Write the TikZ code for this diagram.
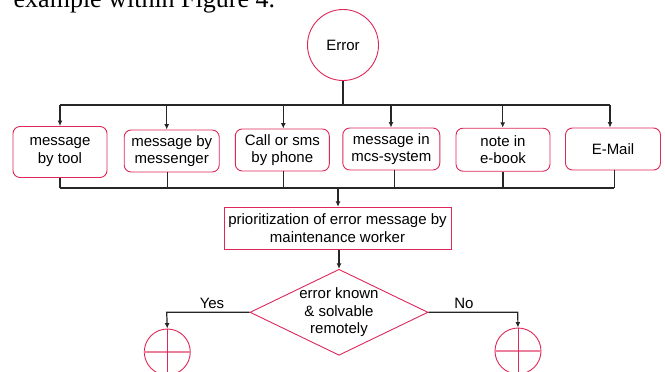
\documentclass[tikz,border=0pt]{standalone}
\usepackage{fontspec}
\setmainfont{Liberation Sans}
\newfontfamily\serifhead{Liberation Serif}
\usetikzlibrary{shapes.geometric,arrows.meta}
\definecolor{crim}{RGB}{222,40,88}
\definecolor{crimlight}{RGB}{236,128,156}
\tikzset{
  base/.style={font=\fontsize{15}{17.7}\selectfont, align=center, inner sep=0pt},
  srcbox/.style={base, draw=crim, line width=0.9pt, rounded corners=7pt, minimum width=95pt, minimum height=42pt},
  procbox/.style={base, draw=crim, line width=0.9pt, minimum width=227pt, minimum height=42pt},
  termcirc/.style={base, draw=crim, line width=0.9pt, circle, minimum size=71pt},
  decide/.style={base, draw=crim, line width=0.9pt, diamond, aspect=2.07, inner sep=-1.5pt, minimum width=178pt, minimum height=86pt},
  endcirc/.style={draw=crim, line width=0.9pt, circle, minimum size=46pt, inner sep=0pt},
  conn/.style={draw=black!85, line width=1.2pt},
  arr/.style={conn, -{Latex[length=5.5pt,width=5pt]}},
  lbl/.style={base}
}
\begin{document}
\begin{tikzpicture}[x=1pt,y=-1pt]
\clip (0,0) rectangle (665,372);
\fill[white] (0,0) rectangle (665,372);
\node[anchor=base west, inner sep=0pt, font=\serifhead\fontsize{26}{30}\selectfont] (hdr) at (13.5,7) {example within Figure 4.};

\node[termcirc] (err) at (343,45) {Error};

\node[srcbox, minimum width=94pt, minimum height=51pt] (b1) at (60,152) {message\\by tool};
\node[srcbox] (b2) at (171.7,151) {message by\\messenger};
\node[srcbox, minimum width=94pt] (b3) at (282.3,150) {Call or sms\\by phone};
\node[srcbox, minimum width=97pt] (b4) at (391.3,149) {message in\\mcs-system};
\node[srcbox, minimum width=94pt, minimum height=43pt] (b5) at (503,149.7) {note in\\e-book};
\node[srcbox] (b6) at (613,149) {E-Mail};

\node[procbox] (prio) at (337.5,228.3) {prioritization of error message by\\maintenance worker};
\node[decide] (dec) at (339,312.3) {error known\\\& solvable\\remotely};

\node[endcirc] (yesend) at (167.3,352) {};
\node[endcirc] (noend) at (518,351) {};

% top bus
\coordinate (top) at (343,105);
\coordinate (t1) at (60,105);
\coordinate (t2) at (166.7,105);
\coordinate (t3) at (283.3,105);
\coordinate (t4) at (391,105);
\coordinate (t5) at (502.7,105);
\coordinate (t6) at (610,105);
\draw[conn] (err.south) -- (top);
\draw[conn] (t1) -- (t6);
\foreach \i in {1,...,6} {\draw[arr] (t\i) -- (t\i |- b\i.north);}

% bottom bus
\coordinate (u1) at (60,188);
\coordinate (u2) at (167.7,188);
\coordinate (u3) at (283.7,188);
\coordinate (u4) at (394.3,188);
\coordinate (u5) at (503,188);
\coordinate (u6) at (614.3,188);
\coordinate (umid) at (338,188);
\foreach \i in {1,...,6} {\draw[conn] (u\i |- b\i.south) -- (u\i);}
\draw[conn] (u1) -- (u6);
\draw[arr] (umid) -- (umid |- prio.north);

\draw[arr] (prio.south -| dec.north) -- (dec.north);

\coordinate (yc) at (166.7,312.3);
\coordinate (nc) at (517.7,312.3);
\draw[arr] (dec.west) -- (yc) -- (yesend.north);
\draw[arr] (dec.east) -- (nc) -- (noend.north);
\node[lbl] (yes) at (212,303) {Yes};
\node[lbl] (no) at (464,303) {No};

% crosses inside end circles
\draw[crimlight, line width=1.6pt] (yesend.west) -- (yesend.east);
\draw[crim, line width=0.9pt] (yesend.north) -- (yesend.south);
\draw[crimlight, line width=1.6pt] (noend.west) -- (noend.east);
\draw[crim, line width=0.9pt] (noend.north) -- (noend.south);
\end{tikzpicture}
\end{document}
